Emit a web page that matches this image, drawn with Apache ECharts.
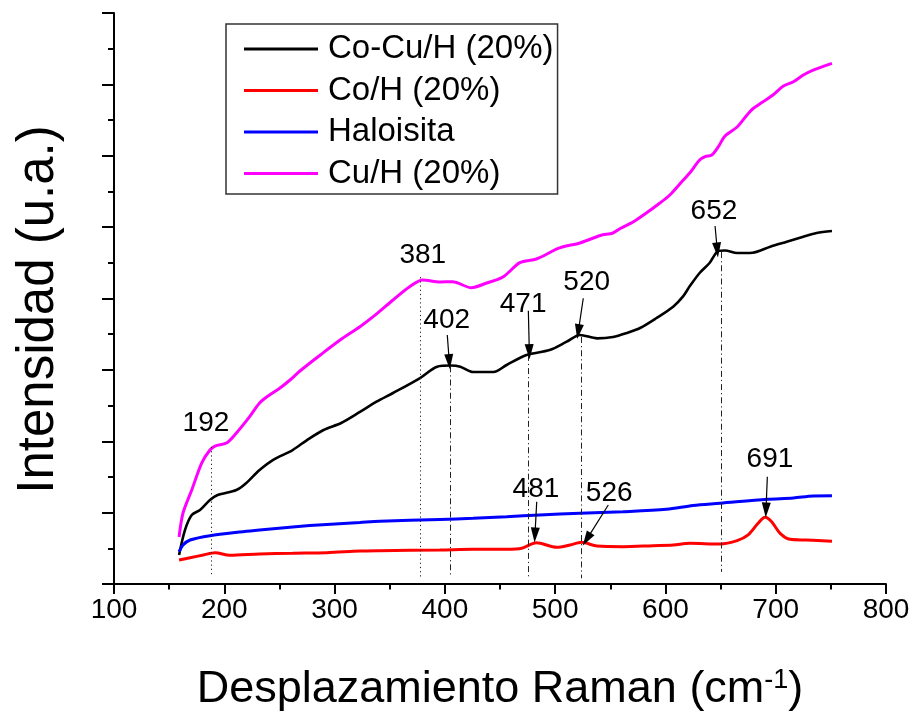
<!DOCTYPE html>
<html>
<head>
<meta charset="utf-8">
<script src="https://cdn.jsdelivr.net/npm/echarts@6/dist/echarts.min.js"></script>
<style>
html,body{margin:0;padding:0;background:#fff;}
#chart{width:914px;height:713px;}
</style>
</head>
<body>
<div id="chart"></div>
<script>
// ---- Data (Raman shift in cm^-1, intensity in arbitrary units) ----
const cocuX = [159,164.4,170.5,178,187,194,211,220,232,244,262,275,290,306,323,338,353,377.5,393,405,414,425.5,444,456,474,495,510.5,522.5,538,552.5,565,577,592,607,616,622,631,640,648,654,665,679,695,710,725,737,751];
const cocuY = [0.406,0.757,0.967,1.037,1.177,1.247,1.317,1.415,1.597,1.737,1.877,2.017,2.158,2.256,2.410,2.554,2.676,2.886,3.045,3.061,3.045,2.970,2.970,3.068,3.208,3.278,3.395,3.489,3.442,3.461,3.517,3.587,3.727,3.885,4.030,4.170,4.357,4.497,4.666,4.673,4.637,4.642,4.726,4.796,4.866,4.918,4.946];

const coX = [159,169,181,191.6,205,232,262,293,323,341,395.6,425.5,456,469.7,483,501.4,513.5,524,538,561.5,588.7,607,622,649.5,665,675,684,690.3,696.3,704,713,728,751];
const coY = [0.336,0.368,0.406,0.439,0.402,0.420,0.430,0.439,0.462,0.467,0.476,0.486,0.486,0.500,0.579,0.514,0.546,0.584,0.532,0.523,0.537,0.546,0.570,0.560,0.607,0.687,0.850,0.934,0.873,0.710,0.626,0.616,0.598];

const haloX = [159,162.6,169,187,217,232,262,293,323,341,395.6,425.5,456,486,522.5,561.5,601,625,649.5,692,716,734,751];
const haloY = [0.453,0.546,0.616,0.677,0.733,0.757,0.800,0.835,0.862,0.878,0.905,0.920,0.943,0.967,0.991,1.013,1.047,1.100,1.131,1.187,1.205,1.233,1.236];

const cuX = [159,162.6,170.5,179.5,187,191.6,202,211,223,232,241,250.5,259.6,268.6,287,305,323,335,353,368,380,395.6,407,424,438,453,468,483,504,522.5,541,552.5,559,571,583,595,604,613,622,631,636,642,648,654,665,674,679,688.5,697.5,707,716,725,734,751];
const cuY = [0.658,0.995,1.317,1.695,1.877,1.933,1.975,2.116,2.344,2.536,2.648,2.746,2.858,2.984,3.208,3.419,3.605,3.745,3.979,4.165,4.259,4.231,4.235,4.151,4.217,4.305,4.502,4.553,4.708,4.778,4.883,4.918,4.981,5.076,5.202,5.338,5.450,5.604,5.758,5.940,5.987,6.011,6.127,6.277,6.403,6.571,6.655,6.757,6.851,6.977,7.037,7.131,7.201,7.295];

const seriesNames = ['Co-Cu/H (20%)','Co/H (20%)','Haloisita','Cu/H (20%)'];
const seriesColors = ['#000000','#ff0000','#0000ff','#ff00ff'];

// peak annotation labels: x, y, text
const peakLabelX = [183.4,380,401.7,471,528.6,644,482.6,549,694.8];
const peakLabelY = [2.251,4.609,3.699,3.923,4.221,5.216,1.327,1.271,1.747];
const peakLabelText = ['192','381','402','471','520','652','481','526','691'];
// arrows: [xFrom, yFrom, xTo, yTo]
const peakArrows = [[402.2,3.489,404,3.115],[475.7,3.829,476.6,3.255],[525.5,4.003,521,3.535],[645,5.016,647,4.680],[483.3,1.153,481.7,0.687],[548.2,1.107,528.6,0.626],[692.4,1.503,691.2,1.037]];
// guide lines: [x, yTop, yBottom, style]
const guideLines = [[188,1.92,0.10,'dot'],[378,4.30,0.09,'dot'],[404.5,3.05,0.09,'dashdot'],[475.6,3.21,0.08,'dashdot'],[524,3.46,0.08,'dashdot'],[650.6,4.65,0.17,'dashdot']];

const xTicks = {min:100, max:800, interval:100};
const yTicks = {min:0, max:8, interval:1};

function pairs(xs, ys){ return xs.map((x,i)=>[x, ys[i]]); }

const FONT = "'Liberation Sans', Arial, sans-serif";
const chart = echarts.init(document.getElementById('chart'), null, {renderer:'canvas'});

const lineSeries = [pairs(cocuX,cocuY), pairs(coX,coY), pairs(haloX,haloY), pairs(cuX,cuY)].map((d,i)=>({
  name: seriesNames[i], type:'line', data:d, showSymbol:false, symbol:'none', smooth:0.3,
  lineStyle:{color:seriesColors[i], width: i===0 ? 2.6 : 3},
  itemStyle:{color:seriesColors[i]}, z: 3
}));

const markLineData = [];
guideLines.forEach(g=>{
  markLineData.push([
    {coord:[g[0],g[1]], symbol:'none', lineStyle:{type: g[3]==='dot' ? [1.2,3] : [6,3,1.2,3], width:1, color:'#222'}},
    {coord:[g[0],g[2]], symbol:'none'}
  ]);
});
peakArrows.forEach(a=>{
  markLineData.push([
    {coord:[a[0],a[1]], symbol:'none', lineStyle:{type:'solid', width:1.2, color:'#000'}},
    {coord:[a[2],a[3]], symbol:'triangle', symbolSize:[9,15]}
  ]);
});

const option = {
  backgroundColor:'#ffffff',
  animation:false,
  textStyle:{fontFamily:FONT},
  grid:{left:114, right:28, top:13, bottom:129, containLabel:false, outerBoundsMode:'none'},
  legend:{
    data:seriesNames.map((n,i)=>({name:n, icon:'rect', itemStyle:{color:seriesColors[i]}})),
    orient:'vertical', left:226, top:24,
    itemWidth:74, itemHeight:3, itemGap:8.5,
    padding:[8.5,4,4,18],
    borderColor:'#333', borderWidth:1.5,
    textStyle:{fontSize:33, color:'#000', fontFamily:FONT, lineHeight:32, padding:[0,0,0,5]},
    selectedMode:false
  },
  xAxis:{
    type:'value', min:xTicks.min, max:xTicks.max, interval:xTicks.interval,
    name:'Desplazamiento Raman (cm{sup|-1})', nameLocation:'middle', nameGap:83,
    nameTextStyle:{fontSize:45, color:'#000', fontFamily:FONT,
      rich:{sup:{fontSize:27, verticalAlign:'top', color:'#000', fontFamily:FONT}}},
    axisLine:{show:true, onZero:false, lineStyle:{color:'#000', width:2}},
    axisTick:{show:true, length:10, lineStyle:{color:'#000', width:2}},
    minorTick:{show:true, splitNumber:2, length:5.5, lineStyle:{color:'#000', width:2}},
    axisLabel:{fontSize:28, color:'#000', margin:12, fontFamily:FONT},
    splitLine:{show:false}
  },
  yAxis:{
    type:'value', min:yTicks.min, max:yTicks.max, interval:yTicks.interval,
    name:'Intensidad (u.a.)', nameLocation:'middle', nameGap:50, nameRotate:90,
    nameTextStyle:{fontSize:51, color:'#000', fontFamily:FONT, padding:[0,22,0,0]},
    axisLine:{show:true, onZero:false, lineStyle:{color:'#000', width:2}},
    axisTick:{show:true, length:12, lineStyle:{color:'#000', width:2}},
    minorTick:{show:true, splitNumber:2, length:6, lineStyle:{color:'#000', width:2}},
    axisLabel:{show:false},
    splitLine:{show:false}
  },
  series: lineSeries.concat([{
    name:'annotations', type:'custom', data:pairs(peakLabelX, peakLabelY), z:5,
    renderItem:(params, api)=>{
      const p = api.coord([api.value(0), api.value(1)]);
      return {type:'text', x:p[0], y:p[1], style:{text:peakLabelText[params.dataIndex], fill:'#000',
        fontSize:28, fontFamily:FONT, align:'center', verticalAlign:'middle'}};
    },
    markLine:{silent:true, symbol:['none','none'], label:{show:false}, animation:false, data:markLineData}
  }])
};
chart.setOption(option);
</script>
</body>
</html>
